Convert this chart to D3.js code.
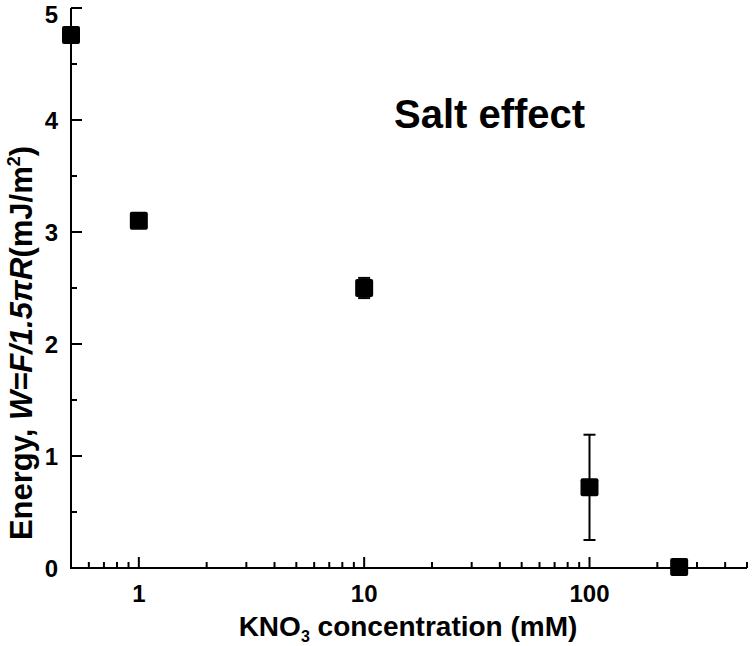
<!DOCTYPE html>
<html><head><meta charset="utf-8">
<script src="https://cdn.jsdelivr.net/npm/d3@7"></script>
<style>body{margin:0;background:#fff}svg{display:block}text{font-family:"Liberation Sans",Arial,sans-serif;font-weight:bold;fill:#000}</style>
</head><body>
<script>
const concentrations = [0.5, 1, 10, 100, 250];
const energies = [4.76, 3.10, 2.50, 0.72, 0.01];
const errors = [0.0, 0.05, 0.09, 0.47, 0.0];
const xTickValues = [1, 10, 100];
const yTickValues = [0, 1, 2, 3, 4, 5];

const W = 752, H = 646;
const svg = d3.select("body").append("svg").attr("width", W).attr("height", H);
const x = d3.scaleLog().domain([0.5, 500]).range([71, 747]);
const y = d3.scaleLinear().domain([0, 5]).range([568, 8]);

const xMinor = [];
[0.1, 1, 10, 100].forEach(d => { for (let k = 1; k <= 9; k++) { const v = +(d * k).toPrecision(3); if (v >= 0.5 && v <= 500 && !xTickValues.includes(v)) xMinor.push(v); } });
const yMinor = d3.range(0.5, 5, 1);

const ax = svg.append("g").attr("stroke", "#000").attr("stroke-width", 2);
ax.append("line").attr("x1", 70).attr("x2", 747).attr("y1", 568).attr("y2", 568);
ax.append("line").attr("x1", 71).attr("x2", 71).attr("y1", 569).attr("y2", 8);
ax.selectAll(".xmaj").data(xTickValues).join("line").attr("class","xmaj").attr("x1", d => x(d)).attr("x2", d => x(d)).attr("y1", 568).attr("y2", 557);
ax.selectAll(".xmin").data(xMinor).join("line").attr("class","xmin").attr("x1", d => x(d)).attr("x2", d => x(d)).attr("y1", 568).attr("y2", 562);
ax.selectAll(".ymaj").data(yTickValues).join("line").attr("class","ymaj").attr("y1", d => y(d)).attr("y2", d => y(d)).attr("x1", 71).attr("x2", 82);
ax.selectAll(".ymin").data(yMinor).join("line").attr("class","ymin").attr("y1", d => y(d)).attr("y2", d => y(d)).attr("x1", 71).attr("x2", 77);

svg.selectAll(".xl").data(xTickValues).join("text").attr("class","xl")
  .attr("x", d => x(d)).attr("y", 602).attr("text-anchor", "middle").attr("font-size", 24).text(d => d);
svg.selectAll(".yl").data(yTickValues).join("text").attr("class","yl")
  .attr("x", 58).attr("y", d => Math.max(y(d) + 8.5, 23)).attr("text-anchor", "end").attr("font-size", 24).text(d => d);

const eb = svg.append("g").attr("stroke", "#000").attr("stroke-width", 2);
const pts = concentrations.map((c, i) => ({c, e: energies[i], err: errors[i]})).filter(d => d.err > 0);
eb.selectAll(".v").data(pts).join("line").attr("class","v").attr("x1", d => x(d.c)).attr("x2", d => x(d.c)).attr("y1", d => y(d.e - d.err)).attr("y2", d => y(d.e + d.err));
eb.selectAll(".t").data(pts).join("line").attr("class","t").attr("x1", d => x(d.c) - 6).attr("x2", d => x(d.c) + 6).attr("y1", d => y(d.e + d.err)).attr("y2", d => y(d.e + d.err));
eb.selectAll(".b").data(pts).join("line").attr("class","b").attr("x1", d => x(d.c) - 6).attr("x2", d => x(d.c) + 6).attr("y1", d => y(d.e - d.err)).attr("y2", d => y(d.e - d.err));

const s = 18;
svg.selectAll(".pt").data(concentrations).join("rect").attr("class","pt")
  .attr("x", d => x(d) - s/2).attr("y", (d, i) => y(energies[i]) - s/2)
  .attr("width", s).attr("height", s).attr("rx", 2).attr("fill", "#000");

svg.append("text").attr("x", 394).attr("y", 128).attr("font-size", 40).text("Salt effect");

const xt = svg.append("text").attr("x", 408).attr("y", 636).attr("text-anchor", "middle").attr("font-size", 28);
xt.append("tspan").text("KNO");
xt.append("tspan").attr("font-size", 16).attr("dy", 6).text("3");
xt.append("tspan").attr("dy", -6).text(" concentration (mM)");

const yt = svg.append("text").attr("transform", "translate(32,343) rotate(-90)").attr("text-anchor", "middle").attr("font-size", 31);
yt.append("tspan").text("Energy, ");
yt.append("tspan").attr("font-style", "italic").text("W=F/1.5\u03C0R");
yt.append("tspan").text("(mJ/m");
yt.append("tspan").attr("font-size", 18).attr("dy", -12).text("2");
yt.append("tspan").attr("dy", 12).text(")");
</script>
</body></html>
